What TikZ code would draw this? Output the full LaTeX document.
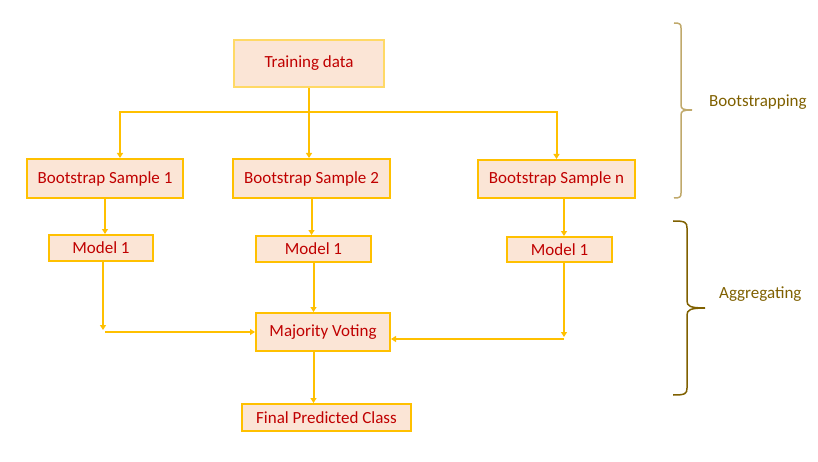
\documentclass[tikz,border=0pt]{standalone}
\usepackage{fontspec}
\setmainfont{Carlito}
\usepackage{tikz}
\usetikzlibrary{
    calc,
    positioning,
    arrows.meta
}
\definecolor{boxline}{HTML}{FFC000}
\definecolor{boxpale}{HTML}{FFD966}
\definecolor{boxfill}{HTML}{FBE5D6}
\definecolor{boxtext}{HTML}{C00000}
\definecolor{bracedark}{HTML}{7F6000}
\definecolor{bracepale}{HTML}{C0A96B}
\tikzset{
    line/.style = {
        line width = 2pt,
        draw = boxline,
        ->,
        > = {
            Triangle[length=5pt, width=6pt]
        }
    },
    arrow/.style = {
        line
    },
    % Process box:
    step node/.style = {
        rectangle,
        draw = boxline,
        line width = 2pt,
        fill = boxfill,
        text = boxtext,
        inner sep = 0pt,
        font = \fontsize{17}{20}\selectfont
    },
    % Brace label:
    phase label/.style = {
        anchor = west,
        text = bracedark,
        inner sep = 0pt,
        font = \fontsize{17}{20}\selectfont
    },
    % Curly brace:
    brace line/.style = {
        line width = 1.5pt,
        draw = #1
    }
}

\begin{document}
\begin{tikzpicture}[x=1pt, y=-1pt]
            \useasboundingbox (0, 0) rectangle (818, 462);
            \node [step node, draw=boxpale, minimum width=150pt, minimum height=47pt] (train) at (309, 63.5) {Training data\hspace{10pt}};
            \node [step node, minimum width=156pt, minimum height=39pt] (bs1) at (105, 178.5) {Bootstrap Sample 1};
            \node [step node, minimum width=157pt, minimum height=39pt] (bs2) at (311.5, 178.5) {Bootstrap Sample 2};
            \node [step node, minimum width=157pt, minimum height=38pt] (bsn) at (556.5, 179) {Bootstrap Sample n};
            \node [step node, minimum width=104pt, minimum height=26pt] (m1a) at (101, 248) {Model 1};
            \node [step node, minimum width=115pt, minimum height=26pt] (m1b) at (313.5, 249) {Model 1};
            \node [step node, minimum width=105pt, minimum height=25pt] (m1c) at (559.5, 249.5) {Model 1};
            \node [step node, minimum width=134pt, minimum height=38pt] (vote) at (323, 332) {Majority Voting};
            \node [step node, minimum width=169pt, minimum height=27pt] (final) at (326.5, 417.5) {Final Predicted Class};
            % bootstrapping
            \coordinate (split) at (309, 112);
            \draw [line width=2pt, draw=boxline] (train.south) -- (split);
            \draw [arrow] (split) -| ([xshift=15pt]bs1.north);
            \draw [arrow] (split) -- (split |- bs2.north);
            \draw [arrow] (split) -| (bsn.north);
            \draw [arrow] (bs1.south) -- (bs1.south |- m1a.north);
            \draw [arrow] (bs2.south) -- (bs2.south |- m1b.north);
            \draw [arrow] ([xshift=7.5pt]bsn.south) -- ([xshift=7.5pt]bsn.south |- m1c.north);
            % aggregating
            \coordinate (lbend) at (103, 332);
            \coordinate (rbend) at (564, 339);
            \draw [arrow] (m1a.south -| lbend) -- ([yshift=2pt]lbend);
            \draw [arrow] ([xshift=2pt]lbend) -- (vote.west);
            \draw [arrow] (m1b.south) -- (m1b.south |- vote.north);
            \draw [arrow] (m1c.south -| rbend) -- ([yshift=2pt]rbend);
            \draw [arrow] (rbend) -- (rbend -| vote.east);
            \draw [arrow] (vote.south -| m1b.south) -- (m1b.south |- final.north);
            % braces
            \draw [brace line=bracepale]
                (674, 23) .. controls (680, 23) and (681, 24) .. (681, 28)
                -- (681, 105)
                .. controls (681, 109) and (683, 110) .. (692, 110)
                .. controls (683, 110) and (681, 111) .. (681, 115)
                -- (681, 193)
                .. controls (681, 197) and (680, 198) .. (674, 198);
            \draw [brace line=bracedark]
                (673, 221) .. controls (685, 221) and (687, 222) .. (687, 228)
                -- (687, 301)
                .. controls (687, 306) and (690, 308) .. (705, 308)
                .. controls (690, 308) and (687, 310) .. (687, 315)
                -- (687, 388)
                .. controls (687, 394) and (685, 395) .. (673, 395);
            \node [phase label] (boot) at (709, 102) {Bootstrapping};
            \node [phase label] (aggr) at (719, 294) {Aggregating};
        \end{tikzpicture}
\end{document}
